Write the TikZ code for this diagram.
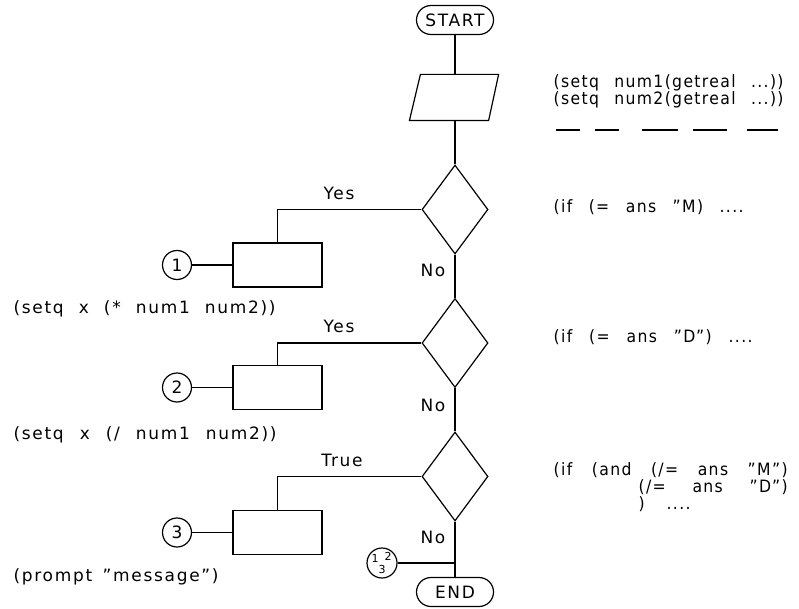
\documentclass[tikz,border=0pt]{standalone}
\usepackage{fontspec}
\newfontfamily\cadfont[LetterSpace=10]{DejaVu Sans}
\newfontfamily\cadnarrow[LetterSpace=8,FakeStretch=0.92]{DejaVu Sans}
\usetikzlibrary{shapes.geometric}
\tikzset{
  tx/.style={font=\cadfont\fontsize{17}{18}\selectfont, inner sep=0pt},
  rtx/.style={font=\cadnarrow\fontsize{17}{18}\selectfont, inner sep=0pt, anchor=west},
  smalltx/.style={font=\cadfont\fontsize{11}{11}\selectfont, inner sep=0pt},
  term/.style={draw, rounded corners=14.5pt, minimum width=77pt, minimum height=29pt, inner sep=0pt, tx},
  dec/.style={draw, diamond, minimum width=66pt, minimum height=89pt, inner sep=0pt},
  proc/.style={draw, rectangle, minimum width=89pt, minimum height=44pt, inner sep=0pt},
  conn/.style={draw, circle, minimum size=29pt, inner sep=0pt, tx},
  lt/.style={tx, anchor=west},
}
\begin{document}
\begin{tikzpicture}[x=1pt,y=-1pt,line width=1.2pt]
\useasboundingbox[fill=white] (0,0) rectangle (799,609);

% flow chart
\node[term] (start) at (455,20) {START};
\node[draw=none, minimum width=78pt, minimum height=45pt, inner sep=0pt] (io) at (455,97.5) {};
\draw ([xshift=5pt]io.north west) -- ([xshift=4pt]io.north east)
      -- ([xshift=-6pt]io.south east) -- ([xshift=-6pt]io.south west) -- cycle;
\node[dec] (d1) at (455,209.5) {};
\node[dec] (d2) at (455,343) {};
\node[dec] (d3) at (455,476.5) {};
\node[proc] (p1) at (277.5,265) {};
\node[proc] (p2) at (277.5,387.5) {};
\node[proc] (p3) at (277.5,532.5) {};
\node[conn] (c1) at (177,265) {1};
\node[conn] (c2) at (177,387.5) {2};
\node[conn] (c3) at (177,532.5) {3};
\node[draw, circle, minimum size=30pt, inner sep=0pt] (cj) at (382,563) {};
\node[smalltx] (cj1) at (375,558.5) {1};
\node[smalltx] (cj2) at (388,556.5) {2};
\node[smalltx] (cj3) at (382,569.5) {3};
\coordinate (j) at (455,563);
\node[term] (end) at (455,592) {END};

\draw (start.south) -- (io.north);
\draw (io.south) -- (d1.north);
\draw (d1.south) -- (d2.north);
\draw (d2.south) -- (d3.north);
\draw (d3.south) -- (end.north);
\draw (d1.west) -| (p1.north);
\draw (d2.west) -| (p2.north);
\draw (d3.west) -| (p3.north);
\draw (c1) -- (p1);
\draw (c2) -- (p2);
\draw (c3) -- (p3);
\draw (cj) -- (j);

% branch labels
\node[tx] (y1) at (339,193) {Yes};
\node[tx] (y2) at (339,326) {Yes};
\node[tx] (y3) at (342,460) {True};
\node[tx] (n1) at (433,270) {No};
\node[tx] (n2) at (433,405) {No};
\node[tx] (n3) at (433,537) {No};

% left texts
\node[lt] (l1) at (13,309) {\makebox[262pt][s]{(setq x (* num1 num2))}};
\node[lt] (l2) at (13,435) {\makebox[263pt][s]{(setq x (/ num1 num2))}};
\node[lt] (l3) at (13,577) {\makebox[205pt][s]{(prompt ”message”)}};

% right texts
\node[rtx] (r1) at (553,83) {\makebox[230pt][s]{(setq num1(getreal ...))}};
\node[rtx] (r2) at (553,100) {\makebox[230pt][s]{(setq num2(getreal ...))}};
\draw (556,130) -- (580,130);
\draw (595,130) -- (619,130);
\draw (642,130) -- (678,130);
\draw (693,130) -- (727,130);
\draw (747,130) -- (778,130);
\node[rtx] (r3) at (553,207) {\makebox[190pt][s]{(if (= ans ”M) ....}};
\node[rtx] (r4) at (553,337) {\makebox[199pt][s]{(if (= ans ”D”) ....}};
\node[rtx] (r5) at (553,470) {\makebox[234pt][s]{(if (and (/= ans ”M”)}};
\node[rtx] (r6) at (638,487) {\makebox[149pt][s]{(/= ans ”D”)}};
\node[rtx] (r7) at (638,504) {\makebox[52pt][s]{) ....}};
\end{tikzpicture}
\end{document}
